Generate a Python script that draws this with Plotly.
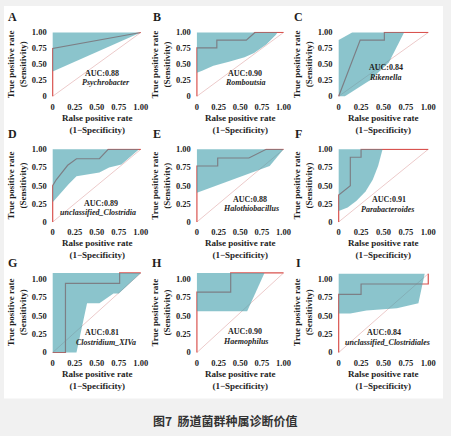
import plotly.graph_objects as go

# ---- data ----
PANEL_LABELS = ["A", "B", "C", "D", "E", "F", "G", "H", "I"]
AUC_TEXT = ["AUC:0.88", "AUC:0.90", "AUC:0.84",
            "AUC:0.89", "AUC:0.88", "AUC:0.91",
            "AUC:0.81", "AUC:0.90", "AUC:0.84"]
GENUS = ["Psychrobacter", "Romboutsia", "Rikenella",
         "unclassified_Clostridia", "Halothiobacillus", "Parabacteroides",
         "Clostridium_XIVa", "Haemophilus", "unclassified_Clostridiales"]

TICK_VALS = [0, 0.25, 0.5, 0.75, 1.0]
TICK_TEXT = ["0", "0.25", "0.50", "0.75", "1.00"]

# ROC curves (false positive rate, true positive rate)
A_FPR = [0, 0, 1]
A_TPR = [0, 0.75, 1]
B_FPR = [0, 0, 0.23, 0.23, 0.57, 0.67, 1]
B_TPR = [0, 0.76, 0.76, 0.88, 0.88, 1, 1]
C_FPR = [0, 0.24, 0.51, 0.51, 1]
C_TPR = [0, 0.88, 0.88, 1, 1]
D_FPR = [0, 0, 0.04, 0.1, 0.17, 0.27, 0.53, 0.63, 1]
D_TPR = [0, 0.5, 0.58, 0.68, 0.78, 0.87, 0.87, 1, 1]
E_FPR = [0, 0, 0.24, 0.24, 0.6, 0.8, 1]
E_TPR = [0, 0.77, 0.77, 0.88, 0.88, 1, 1]
F_FPR = [0, 0, 0.13, 0.13, 0.25, 0.25, 1]
F_TPR = [0, 0.37, 0.5, 0.89, 0.89, 1, 1]
G_FPR = [0, 0.145, 0.145, 0.76, 0.76, 1]
G_TPR = [0, 0, 0.94, 0.94, 1.08, 1.08]
H_FPR = [0, 0, 0.39, 0.39, 1]
H_TPR = [0, 0.82, 0.82, 1.08, 1.08]
I_FPR = [0, 0, 0.25, 0.25, 1.0, 1.0]
I_TPR = [0, 0.79, 0.79, 0.93, 0.93, 1.07]

# confidence bands: upper and lower edges, left to right
A_HI_X, A_HI_Y = [0, 1], [1, 1]
A_LO_X, A_LO_Y = [0, 1], [0.39, 1]
B_HI_X, B_HI_Y = [0, 0.93], [1, 1]
B_LO_X = [0, 0.06, 0.19, 0.37, 0.55, 0.66, 0.8, 0.91, 0.93]
B_LO_Y = [0.37, 0.4, 0.48, 0.54, 0.61, 0.68, 0.81, 0.96, 1]
C_HI_X, C_HI_Y = [0, 0.15, 0.73], [0.88, 1, 1]
C_LO_X = [0, 0.07, 0.35, 0.56, 0.65, 0.73]
C_LO_Y = [0, 0, 0.25, 0.53, 0.78, 1]
D_HI_X, D_HI_Y = [0, 0.98], [1, 1]
D_LO_X = [0, 0.09, 0.18, 0.27, 0.4, 0.53, 0.64, 0.78, 0.98]
D_LO_Y = [0.27, 0.39, 0.52, 0.63, 0.66, 0.68, 0.75, 0.79, 1]
E_HI_X, E_HI_Y = [0, 1], [1, 1]
E_LO_X = [0, 0.55, 0.66, 0.84, 1]
E_LO_Y = [0.4, 0.64, 0.69, 0.77, 1]
F_HI_X, F_HI_Y = [0, 0.49], [1, 1]
F_LO_X = [0, 0.1, 0.2, 0.3, 0.38, 0.44, 0.49]
F_LO_Y = [0.15, 0.2, 0.29, 0.42, 0.58, 0.77, 1]
G_HI_X, G_HI_Y = [0, 1], [1.08, 1.08]
G_LO_X = [0, 0.27, 0.39, 0.53, 0.69, 0.75, 1]
G_LO_Y = [0, 0, 0.67, 0.67, 0.8, 0.8, 1.08]
H_HI_X, H_HI_Y = [0, 0.78], [1.08, 1.08]
H_LO_X = [0, 0.58, 0.78]
H_LO_Y = [0.56, 0.56, 1.08]
I_HI_X, I_HI_Y = [0, 0.96], [1.07, 1.07]
I_LO_X = [0, 0.13, 0.31, 0.65, 0.89, 0.96]
I_LO_Y = [0.53, 0.53, 0.57, 0.6, 0.67, 1.07]

# reference diagonal end (top right corner of each panel)
DIAG_END = [1, 1, 1, 1, 1, 1, 1.08, 1.08, 1.07]

ROC = [(A_FPR, A_TPR), (B_FPR, B_TPR), (C_FPR, C_TPR),
       (D_FPR, D_TPR), (E_FPR, E_TPR), (F_FPR, F_TPR),
       (G_FPR, G_TPR), (H_FPR, H_TPR), (I_FPR, I_TPR)]
BANDS = [(A_HI_X, A_HI_Y, A_LO_X, A_LO_Y), (B_HI_X, B_HI_Y, B_LO_X, B_LO_Y),
         (C_HI_X, C_HI_Y, C_LO_X, C_LO_Y), (D_HI_X, D_HI_Y, D_LO_X, D_LO_Y),
         (E_HI_X, E_HI_Y, E_LO_X, E_LO_Y), (F_HI_X, F_HI_Y, F_LO_X, F_LO_Y),
         (G_HI_X, G_HI_Y, G_LO_X, G_LO_Y), (H_HI_X, H_HI_Y, H_LO_X, H_LO_Y),
         (I_HI_X, I_HI_Y, I_LO_X, I_LO_Y)]

# ---- layout (pixels) ----
W, H = 451, 436
COLS_PX = [(52.5, 142), (199, 287), (343, 434)]     # x=0, x=1
ROWS_PX = [(94, 29), (222, 148), (355, 280)]        # y=0, y=1
Y_TOP = [1.012, 1.012, 1.1]
X_PAD = 0.012
# AUC text x, y and genus x, y inside each panel
TEXT_POS = [(0.56, 0.36, 0.6, 0.21), (0.56, 0.36, 0.56, 0.21), (0.53, 0.445, 0.52, 0.30),
            (0.55, 0.255, 0.52, 0.125), (0.61, 0.31, 0.62, 0.18), (0.56, 0.305, 0.55, 0.175),
            (0.56, 0.27, 0.6, 0.14), (0.55, 0.285, 0.56, 0.155), (0.51, 0.265, 0.55, 0.135)]

SERIF = "Liberation Serif, Times New Roman, serif"
BAND_FILL = "rgba(62,156,170,0.6)"
ROC_RED = "#d9534f"
DIAG_COL = "#eccaca"
INK = "#1e1e1e"


def label(x, y, text, size, xref="paper", yref="paper", angle=0, family=SERIF, color=INK):
    return dict(x=x, y=y, xref=xref, yref=yref, text=text, showarrow=False,
                xanchor="center", yanchor="middle", textangle=angle,
                font=dict(family=family, size=size, color=color))


fig = go.Figure()
annotations = []
layout_axes = {}

for k in range(9):
    r, c = divmod(k, 3)
    n = "" if k == 0 else str(k + 1)
    xref, yref = "x" + n, "y" + n

    x0, x1 = COLS_PX[c]
    ux = x1 - x0
    dom_x = [(x0 - X_PAD * ux) / W, (x1 + X_PAD * ux) / W]
    y0, y1 = ROWS_PX[r]
    uy = y0 - y1
    dom_y = [1 - (y0 + X_PAD * uy) / H, 1 - (y0 - Y_TOP[r] * uy) / H]

    layout_axes["xaxis" + n] = dict(
        domain=dom_x, range=[-X_PAD, 1 + X_PAD], anchor=yref,
        tickvals=TICK_VALS, ticktext=TICK_TEXT, showgrid=False,
        zeroline=False, showline=False, ticks="", ticklabelstandoff=3,
        tickfont=dict(family=SERIF, size=8.5, color=INK, weight="bold"),
    )
    layout_axes["yaxis" + n] = dict(
        domain=dom_y, range=[-X_PAD, Y_TOP[r]], anchor=xref,
        tickvals=TICK_VALS, ticktext=TICK_TEXT, showgrid=False,
        zeroline=False, showline=False, ticks="", ticklabelstandoff=4,
        tickfont=dict(family=SERIF, size=8.5, color=INK, weight="bold"),
    )

    # diagonal, ROC, then band on top
    fig.add_trace(go.Scatter(x=[0, 1], y=[0, DIAG_END[k]], mode="lines",
                             line=dict(color=DIAG_COL, width=1),
                             xaxis=xref, yaxis=yref, hoverinfo="skip"))
    fx, ty = ROC[k]
    fig.add_trace(go.Scatter(x=fx, y=ty, mode="lines",
                             line=dict(color=ROC_RED, width=1.2),
                             xaxis=xref, yaxis=yref))
    hx, hy, lx, ly = BANDS[k]
    fig.add_trace(go.Scatter(x=hx + lx[::-1], y=hy + ly[::-1], mode="lines",
                             fill="toself", fillcolor=BAND_FILL,
                             line=dict(width=0), xaxis=xref, yaxis=yref,
                             hoverinfo="skip"))

    ax, ay, gx, gy = TEXT_POS[k]
    annotations.append(label(ax, ay, "<b>" + AUC_TEXT[k] + "</b>", 8, xref, yref))
    annotations.append(label(gx, gy, "<b><i>" + GENUS[k] + "</i></b>", 8, xref, yref))

    # axis titles and panel letter
    cx = (x0 + x1) / 2
    annotations.append(label(cx / W, 1 - (y0 + 28) / H,
                             "<b>Ralse positive rate<br>(1−Specificity)</b>", 9))
    cy = (y0 + y1 - (Y_TOP[r] - 1) * uy) / 2
    annotations.append(label((x0 - 36) / W, 1 - cy / H,
                             "<b>True positive rate<br>(Sensitivity)</b>", 9, angle=-90))
    annotations.append(label((x0 - 41) / W, 1 - (y1 - 16) / H,
                             "<b>" + PANEL_LABELS[k] + "</b>", 12))

annotations.append(label(228 / W, 1 - 424 / H, "<b>图7  肠道菌群种属诊断价值</b>", 12,
                         family="Noto Sans CJK SC", color="#333333"))

fig.update_layout(
    width=W, height=H, margin=dict(l=0, r=0, t=0, b=0),
    paper_bgcolor="#f1f1f1", plot_bgcolor="rgba(0,0,0,0)",
    showlegend=False, annotations=annotations,
    shapes=[dict(type="rect", xref="paper", yref="paper", layer="below",
                 x0=3 / W, x1=449 / W, y0=1 - 402 / H, y1=1 - 2 / H,
                 fillcolor="white", line=dict(width=0))],
    **layout_axes,
)

# page without the default body margin so the figure fills the window
fig.write_html("out.html", config={"displayModeBar": False},
               post_script="document.body.style.margin='0';")
